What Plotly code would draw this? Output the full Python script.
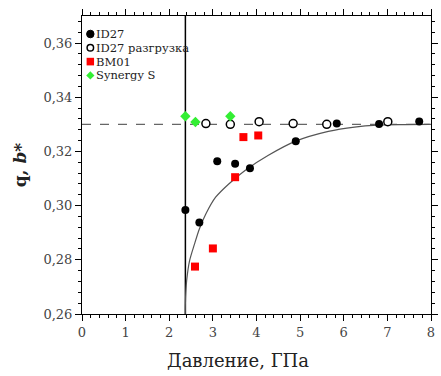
import plotly.graph_objects as go

# ---- data ----
id27_p = [2.37, 2.69, 3.10, 3.51, 3.85, 4.90, 5.84, 6.81, 7.73]
id27_q = [0.2984, 0.2938, 0.3164, 0.3155, 0.3138, 0.3238, 0.3303, 0.3301, 0.3311]

unload_p = [2.84, 3.40, 4.06, 4.84, 5.61, 7.01]
unload_q = [0.3303, 0.3300, 0.3310, 0.3303, 0.3300, 0.3310]

bm01_p = [2.59, 3.00, 3.51, 3.70, 4.04]
bm01_q = [0.2775, 0.2842, 0.3105, 0.3253, 0.3259]

syn_p = [2.37, 2.60, 3.40]
syn_q = [0.3330, 0.3309, 0.3330]

fit_p = [2.366, 2.370, 2.380, 2.400, 2.465, 2.578, 2.690, 2.838, 3.063, 3.364, 3.737,
         4.263, 4.899, 5.647, 6.247, 6.771, 7.400, 7.970]
fit_q = [0.2600, 0.2640, 0.2680, 0.2725, 0.2796, 0.2858, 0.2914, 0.2969, 0.3031, 0.3080, 0.3130,
         0.3185, 0.3238, 0.3274, 0.3290, 0.3297, 0.3299, 0.3300]

critical_p = 2.37
q_limit = 0.33

x_ticks = [0, 1, 2, 3, 4, 5, 6, 7, 8]
y_ticks = [0.26, 0.28, 0.30, 0.32, 0.34, 0.36]
y_tick_text = ["0,26", "0,28", "0,30", "0,32", "0,34", "0,36"]

legend_names = ["ID27", "ID27 разгрузка", "BM01", "Synergy S"]
x_title = "Давление, ГПа"
y_title = "<b>q, <i>b</i>*</b>"

FONT = "DejaVu Serif"

fig = go.Figure()

fig.add_trace(go.Scatter(x=fit_p, y=fit_q, mode="lines", line=dict(color="#555555", width=1.2, shape="spline", smoothing=0.8),
                         showlegend=False, hoverinfo="skip"))

fig.add_trace(go.Scatter(x=id27_p, y=id27_q, mode="markers", name=legend_names[0],
                         marker=dict(symbol="circle", size=8, color="black")))
fig.add_trace(go.Scatter(x=unload_p, y=unload_q, mode="markers", name=legend_names[1],
                         marker=dict(symbol="circle", size=8, color="white", line=dict(color="black", width=1.5))))
fig.add_trace(go.Scatter(x=bm01_p, y=bm01_q, mode="markers", name=legend_names[2],
                         marker=dict(symbol="square", size=8, color="#ff0000")))
fig.add_trace(go.Scatter(x=syn_p, y=syn_q, mode="markers", name=legend_names[3],
                         marker=dict(symbol="diamond", size=8, color="#33ee33")))

fig.add_shape(type="line", xref="x", yref="paper", x0=critical_p, x1=critical_p, y0=0, y1=1,
              line=dict(color="black", width=1.5), layer="below")
fig.add_shape(type="line", xref="paper", yref="y", x0=0, x1=1, y0=q_limit, y1=q_limit,
              line=dict(color="#666666", width=1.2, dash="dash"), layer="below")

# ---- hand-made compact legend (top-left, inside plot) ----
PW, PH = 356.0, 298.0  # plot area size in px
def px(xp):
    return (xp - 82) / PW
def py(yp):
    return (314 - yp) / PH

rows_y = [34, 47.8, 61.6, 75.4]
sx = 90.5
r = 3.8
fig.add_shape(type="circle", xref="paper", yref="paper", x0=px(sx - r), x1=px(sx + r),
              y0=py(rows_y[0] + r), y1=py(rows_y[0] - r), fillcolor="black", line=dict(color="black", width=1))
fig.add_shape(type="circle", xref="paper", yref="paper", x0=px(sx - r + 0.5), x1=px(sx + r - 0.5),
              y0=py(rows_y[1] + r - 0.5), y1=py(rows_y[1] - r + 0.5), fillcolor="white", line=dict(color="black", width=1.5))
fig.add_shape(type="rect", xref="paper", yref="paper", x0=px(sx - r), x1=px(sx + r),
              y0=py(rows_y[2] + r), y1=py(rows_y[2] - r), fillcolor="#ff0000", line=dict(width=0))
d = 4.2
yd = rows_y[3]
fig.add_shape(type="path", xref="paper", yref="paper",
              path=f"M {px(sx)} {py(yd - d)} L {px(sx + d)} {py(yd)} L {px(sx)} {py(yd + d)} L {px(sx - d)} {py(yd)} Z",
              fillcolor="#33ee33", line=dict(width=0))
for name, yy in zip(legend_names, rows_y):
    fig.add_annotation(xref="paper", yref="paper", x=px(95.5), y=py(yy), text=name, showarrow=False,
                       xanchor="left", yanchor="middle", borderpad=0,
                       font=dict(family=FONT, size=11.5, color="#222222"))

# x-axis title placed like the reference (slightly left of centre)
fig.add_annotation(xref="paper", yref="paper", x=px(241), y=py(360), text=x_title, showarrow=False,
                   xanchor="center", yanchor="middle", font=dict(family=FONT, size=18, color="#222222"))

fig.update_xaxes(range=[0, 8], tickvals=x_ticks, ticktext=[str(v) for v in x_ticks],
                 showline=True, linecolor="black", linewidth=1, mirror="allticks",
                 ticks="outside", ticklen=6, tickcolor="black", showgrid=False, zeroline=False,
                 tickfont=dict(family=FONT, size=13, color="#444444"),
                 minor=dict(ticks="outside", ticklen=3, dtick=0.2, tickcolor="black"))
fig.update_yaxes(range=[0.26, 0.37], tickvals=y_ticks, ticktext=y_tick_text,
                 showline=True, linecolor="black", linewidth=1, mirror="allticks",
                 ticks="outside", ticklen=6, tickcolor="black", showgrid=False, zeroline=False,
                 tickfont=dict(family=FONT, size=13, color="#444444"),
                 minor=dict(ticks="outside", ticklen=3, dtick=0.004, tickcolor="black"),
                 title=dict(text=y_title, font=dict(family=FONT, size=17, color="#222222"), standoff=12))

fig.update_layout(
    width=441, height=376,
    margin=dict(l=82, r=3, t=16, b=62),
    paper_bgcolor="white", plot_bgcolor="white",
    showlegend=False,
)

fig.write_html("out.html")
